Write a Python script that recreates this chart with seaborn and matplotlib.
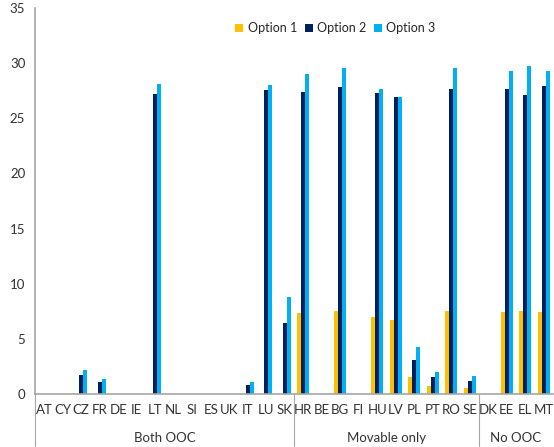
import numpy as np
import pandas as pd
import matplotlib
matplotlib.use("Agg")
import matplotlib.pyplot as plt
import matplotlib.transforms as mtransforms
import seaborn as sns

# Countries by group
both_ooc = ["AT", "CY", "CZ", "FR", "DE", "IE", "LT", "NL", "SI", "ES", "UK", "IT", "LU", "SK"]
movable_only = ["HR", "BE", "BG", "FI", "HU", "LV", "PL", "PT", "RO", "SE"]
no_ooc = ["DK", "EE", "EL", "MT"]
groups = ["Both OOC", "Movable only", "No OOC"]

countries = both_ooc + movable_only + no_ooc

# Series values
option1 = [0, 0, 0, 0, 0, 0, 0, 0, 0, 0, 0, 0, 0, 0,
           7.3, 0, 7.5, 0, 7.0, 6.7, 1.5, 0.7, 7.5, 0.55,
           0, 7.4, 7.5, 7.4]
option2 = [0, 0, 1.7, 1.1, 0, 0, 27.2, 0, 0, 0, 0, 0.8, 27.6, 6.4,
           27.4, 0, 27.8, 0, 27.3, 26.95, 3.1, 1.5, 27.7, 1.2,
           0, 27.7, 27.1, 27.9]
option3 = [0, 0, 2.2, 1.4, 0, 0, 28.1, 0, 0, 0, 0, 1.05, 28.0, 8.8,
           29.05, 0, 29.6, 0, 27.7, 26.95, 4.25, 2.0, 29.6, 1.6,
           0, 29.25, 29.7, 29.3]

series = {"Option 1": option1, "Option 2": option2, "Option 3": option3}
colors = ["#FFC000", "#002060", "#00B0F0"]

rows = []
for name, vals in series.items():
    for c, v in zip(countries, vals):
        rows.append({"Country": c, "Option": name, "Value": v})
df = pd.DataFrame(rows)

sns.set_style("white")
plt.rcParams["font.family"] = ["Lato", "DejaVu Sans"]

fig = plt.figure(figsize=(5.54, 4.47), dpi=100)
ax = fig.add_axes([35 / 554, 1 - 394 / 447, 518 / 554, 386 / 447])

sns.barplot(data=df, x="Country", y="Value", hue="Option", order=countries,
            hue_order=list(series.keys()), palette=colors, width=0.65,
            saturation=1, linewidth=0, ax=ax)

gray = "#A6A6A6"
ax.set_ylim(0, 35)
ax.set_xlim(-0.5, len(countries) - 0.5)
ax.set_yticks(range(0, 36, 5))
ax.set_xlabel("")
ax.set_ylabel("")
ax.tick_params(axis="y", length=0, pad=7, labelsize=9.5, labelcolor="#333333")
ax.tick_params(axis="x", which="major", length=0, pad=7, labelsize=9.5, labelcolor="#333333")
ax.set_xticks(np.arange(-0.5, len(countries), 1), minor=True)
ax.tick_params(axis="x", which="minor", length=18.5, width=0.8, color=gray)

for s in ["top", "right"]:
    ax.spines[s].set_visible(False)
for s in ["left", "bottom"]:
    ax.spines[s].set_color(gray)
    ax.spines[s].set_linewidth(1.2)

# Group separators and labels
trans = mtransforms.blended_transform_factory(ax.transData, ax.transAxes)
sizes = [len(both_ooc), len(movable_only), len(no_ooc)]
start = 0
for name, n in zip(groups, sizes):
    ax.plot([start - 0.5, start - 0.5], [0, -0.135], transform=trans,
            color=gray, lw=0.8, clip_on=False)
    ax.text(start + (n - 1) / 2, -0.113, name, transform=trans,
            ha="center", va="center", fontsize=9.5, color="#333333")
    start += n

ax.legend(loc="center", bbox_to_anchor=(0.58, 0.948), ncol=3, frameon=False,
          handlelength=0.65, handleheight=0.65, handletextpad=0.35,
          columnspacing=0.6, fontsize=9)

fig.savefig("out.png", dpi=100)
